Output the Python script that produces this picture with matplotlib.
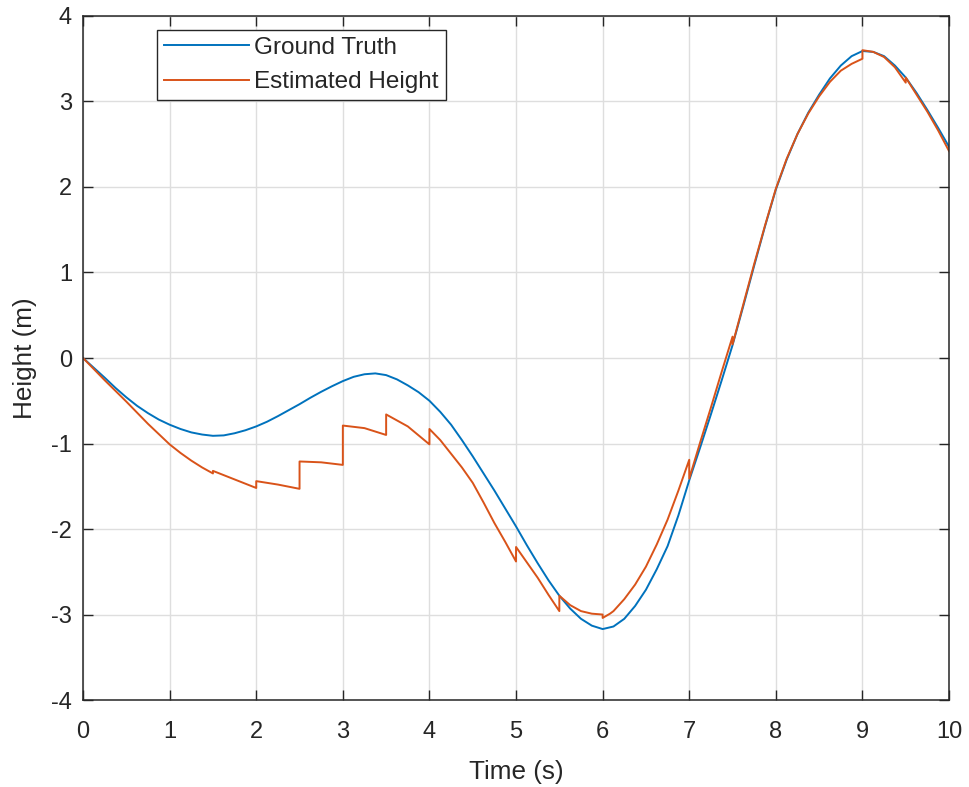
import matplotlib.pyplot as plt
import numpy as np

plt.rcParams['font.family'] = ['Liberation Sans', 'DejaVu Sans']
plt.rcParams['axes.unicode_minus'] = False

# ---------------- data ----------------
t_true = [0.0, 0.125, 0.25, 0.375, 0.5, 0.625, 0.75, 0.875, 1.0, 1.125, 1.25,
          1.375, 1.5, 1.625, 1.75, 1.875, 2.0, 2.125, 2.25, 2.375, 2.5, 2.625,
          2.75, 2.875, 3.0, 3.125, 3.25, 3.375, 3.5, 3.625, 3.75, 3.875, 4.0,
          4.125, 4.25, 4.375, 4.5, 4.625, 4.75, 4.875, 5.0, 5.125, 5.25, 5.375,
          5.5, 5.625, 5.75, 5.875, 6.0, 6.125, 6.25, 6.375, 6.5, 6.625, 6.75,
          6.875, 7.0, 7.125, 7.25, 7.375, 7.5, 7.625, 7.75, 7.875, 8.0, 8.125,
          8.25, 8.375, 8.5, 8.625, 8.75, 8.875, 9.0, 9.125, 9.25, 9.375, 9.5,
          9.625, 9.75, 9.875, 10.0]
h_true = [0.0, -0.115, -0.23, -0.35, -0.46, -0.56, -0.645, -0.72, -0.78, -0.83,
          -0.87, -0.895, -0.91, -0.905, -0.88, -0.845, -0.80, -0.745, -0.68,
          -0.61, -0.54, -0.465, -0.395, -0.33, -0.27, -0.22, -0.19, -0.18, -0.20,
          -0.25, -0.32, -0.40, -0.50, -0.63, -0.78, -0.96, -1.15, -1.35, -1.55,
          -1.76, -1.97, -2.19, -2.40, -2.60, -2.78, -2.93, -3.05, -3.13, -3.17,
          -3.14, -3.05, -2.90, -2.71, -2.47, -2.20, -1.84, -1.43, -1.05, -0.66,
          -0.26, 0.15, 0.61, 1.08, 1.54, 1.97, 2.32, 2.62, 2.87, 3.08, 3.27, 3.42,
          3.53, 3.59, 3.58, 3.53, 3.42, 3.28, 3.10, 2.90, 2.69, 2.47]

t_est = [0.0, 0.25, 0.5, 0.75, 1.0, 1.125, 1.25, 1.375, 1.5, 1.5, 1.75, 2.0,
         2.0, 2.25, 2.5, 2.5, 2.75, 3.0, 3.0, 3.25, 3.5, 3.5, 3.75, 4.0, 4.0,
         4.125, 4.25, 4.375, 4.5, 4.625, 4.75, 4.875, 5.0, 5.0, 5.125, 5.25,
         5.375, 5.5, 5.5, 5.625, 5.75, 5.875, 6.0, 6.0, 6.085, 6.125, 6.25,
         6.375, 6.5, 6.625, 6.75, 6.875, 7.0, 7.0, 7.125, 7.25, 7.375, 7.5,
         7.5, 7.625, 7.75, 7.875, 8.0, 8.125, 8.25, 8.375, 8.5, 8.625, 8.75,
         8.875, 9.0, 9.0, 9.125, 9.25, 9.375, 9.5, 9.5, 9.625, 9.75, 9.875, 10.0]
h_est = [0.0, -0.26, -0.51, -0.77, -1.01, -1.11, -1.20, -1.28, -1.35, -1.32,
         -1.42, -1.52, -1.44, -1.48, -1.53, -1.21, -1.22, -1.25, -0.79, -0.82,
         -0.90, -0.66, -0.80, -1.01, -0.83, -0.96, -1.12, -1.28, -1.46, -1.69,
         -1.93, -2.15, -2.38, -2.21, -2.39, -2.57, -2.77, -2.96, -2.78, -2.89,
         -2.96, -2.99, -3.00, -3.04, -2.99, -2.96, -2.82, -2.65, -2.44, -2.18,
         -1.89, -1.55, -1.19, -1.41, -0.99, -0.58, -0.16, 0.25, 0.16, 0.63, 1.10,
         1.55, 1.98, 2.33, 2.62, 2.86, 3.06, 3.23, 3.36, 3.44, 3.50, 3.60, 3.58,
         3.52, 3.40, 3.22, 3.28, 3.08, 2.88, 2.66, 2.42]

xticks = np.arange(0, 11, 1)
yticks = np.arange(-4, 5, 1)

# ---------------- figure ----------------
txt = '#262626'
fig = plt.figure(figsize=(9.69, 7.87), dpi=100)
ax = fig.add_axes([0.0857, 0.1105, 0.8937, 0.8692])

ax.plot(t_true, h_true, color='#0072BD', lw=1.4, label='Ground Truth')
ax.plot(t_est, h_est, color='#D95319', lw=1.4, label='Estimated Height')

ax.set_xlim(0, 10)
ax.set_ylim(-4, 4)
ax.set_xticks(xticks)
ax.set_yticks(yticks)
ax.grid(True, color='#dedede', lw=1.0)
ax.set_axisbelow(True)

for s in ax.spines.values():
    s.set_color(txt)
    s.set_linewidth(1.1)
ax.tick_params(which='both', direction='in', length=7, width=1.0, color=txt,
               top=True, right=True, labelsize=17, labelcolor=txt)
ax.tick_params(axis='x', pad=15)
ax.tick_params(axis='y', pad=8)

ax.set_xlabel('Time (s)', fontsize=18.8, color=txt, labelpad=12)
ax.set_ylabel('Height (m)', fontsize=18.8, color=txt, labelpad=10)

leg = ax.legend(loc='upper left', bbox_to_anchor=(0.085, 0.98), fontsize=17.5,
                fancybox=False, framealpha=1, edgecolor=txt, handlelength=3.5,
                labelspacing=0.5, borderpad=0.3, handletextpad=0.2,
                borderaxespad=0)
leg.get_frame().set_linewidth(1.0)
for t in leg.get_texts():
    t.set_color(txt)

plt.savefig('out.png', dpi=100)
